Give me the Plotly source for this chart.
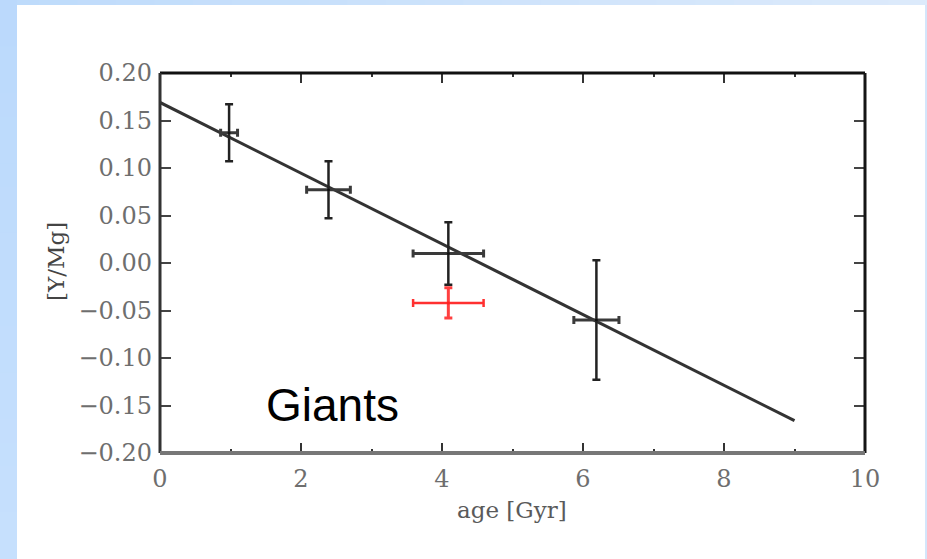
import plotly.graph_objects as go

# Giants: [Y/Mg] abundance ratio versus stellar age
ages = [0.98, 2.39, 4.09, 6.19]
ymg = [0.137, 0.077, 0.010, -0.060]
age_err = [0.12, 0.31, 0.50, 0.32]
ymg_err = [0.030, 0.030, 0.033, 0.063]

# separate red point
red_age = [4.09]
red_ymg = [-0.042]
red_age_err = [0.50]
red_ymg_err = [0.016]

# linear fit
fit_age = [0.0, 9.0]
fit_ymg = [0.169, -0.166]

x_ticks = [0, 2, 4, 6, 8, 10]
y_ticks = [0.20, 0.15, 0.10, 0.05, 0.00, -0.05, -0.10, -0.15, -0.20]
y_tick_text = [("\u2212" if v < 0 else "") + f"{abs(v):.2f}" for v in y_ticks]

W, H = 927, 559
L, R, T, B = 160, 62, 73, 106
PW, PH = W - L - R, H - T - B


def px(x):
    """figure pixel column -> paper coordinate"""
    return (x - L) / PW


def py(y):
    """figure pixel row (from top) -> paper coordinate"""
    return (H - B - y) / PH


tick_font = dict(family="DejaVu Serif", size=24, color="#6e6e6e")

fig = go.Figure()

fig.add_trace(go.Scatter(
    x=fit_age, y=fit_ymg, mode="lines",
    line=dict(color="#333333", width=3), hoverinfo="skip", showlegend=False,
))

fig.add_trace(go.Scatter(
    x=ages, y=ymg, mode="markers",
    marker=dict(size=3, color="#111111"),
    error_x=dict(type="data", array=age_err, color="#3a3a3a", thickness=3, width=4),
    error_y=dict(type="data", array=ymg_err, color="#222222", thickness=2.5, width=4),
    showlegend=False,
))

fig.add_trace(go.Scatter(
    x=red_age, y=red_ymg, mode="markers",
    marker=dict(size=3, color="#ff2020"),
    error_x=dict(type="data", array=red_age_err, color="#ff3030", thickness=2.5, width=4),
    error_y=dict(type="data", array=red_ymg_err, color="#ff4040", thickness=3, width=4),
    showlegend=False,
))

fig.add_annotation(
    x=2.44, y=-0.1495, xref="x", yref="y", text="Giants", showarrow=False,
    font=dict(family="Liberation Sans, Arial", size=46, color="#000000"),
)

# axis titles
fig.add_annotation(
    x=px(512), y=py(510), xref="paper", yref="paper",
    xanchor="center", yanchor="middle",
    text="age [Gyr]", showarrow=False,
    font=dict(family="DejaVu Serif", size=23, color="#5a5a5a"),
)
fig.add_annotation(
    x=px(56), y=py(262), xref="paper", yref="paper",
    xanchor="center", yanchor="middle",
    text="[Y/Mg]", showarrow=False, textangle=-90,
    font=dict(family="DejaVu Serif", size=23, color="#444444"),
)

shapes = []
# light blue frame around the white panel
n = 24
top_c0 = (0xBE, 0xDB, 0xFB)
top_c1 = (0xDC, 0xEA, 0xFB)
for i in range(n):
    f = i / (n - 1)
    c = tuple(int(round(a + (b - a) * f)) for a, b in zip(top_c0, top_c1))
    shapes.append(dict(type="rect", xref="paper", yref="paper", layer="below",
                       x0=px(W * i / n), x1=px(W * (i + 1) / n + 1), y0=py(5), y1=py(0),
                       fillcolor="rgb(%d,%d,%d)" % c, line=dict(width=0)))
left_c0 = (0xBB, 0xD9, 0xFC)
left_c1 = (0xC6, 0xE0, 0xFD)
for i in range(n):
    f = i / (n - 1)
    c = tuple(int(round(a + (b - a) * f)) for a, b in zip(left_c0, left_c1))
    shapes.append(dict(type="rect", xref="paper", yref="paper", layer="below",
                       x0=px(0), x1=px(17), y0=py(H * (i + 1) / n + 1), y1=py(H * i / n),
                       fillcolor="rgb(%d,%d,%d)" % c, line=dict(width=0)))
shapes.append(dict(type="rect", xref="paper", yref="paper", layer="below",
                   x0=px(W - 2), x1=px(W), y0=py(H), y1=py(5),
                   fillcolor="#d4e6fb", line=dict(width=0)))

# plot frame spines
spine = [
    (0, 1, 1, 1, "#111111", 3),
    (1, 1, 0, 1, "#151515", 3),
    (0, 0, 0, 1, "#333333", 3),
    (0, 1, 0, 0, "#777777", 4),
]
for x0, x1, y0, y1, col, w in spine:
    shapes.append(dict(type="line", xref="paper", yref="paper",
                       x0=x0, x1=x1, y0=y0, y1=y1, line=dict(color=col, width=w)))

fig.update_layout(
    width=W, height=H,
    margin=dict(l=L, r=R, t=T, b=B),
    paper_bgcolor="#ffffff",
    plot_bgcolor="#ffffff",
    shapes=shapes,
    xaxis=dict(
        range=[0, 10], tickvals=x_ticks, ticktext=[str(v) for v in x_ticks],
        ticks="inside", ticklen=10, tickwidth=2, tickcolor="#333333",
        mirror="allticks", showline=False, showgrid=False, zeroline=False,
        tickfont=tick_font, ticklabelstandoff=9,
        minor=dict(dtick=1, tick0=0, ticks="inside", ticklen=4, tickwidth=2,
                   tickcolor="#333333", showgrid=False),
    ),
    yaxis=dict(
        range=[-0.20, 0.20], tickvals=y_ticks, ticktext=y_tick_text,
        ticks="inside", ticklen=11, tickwidth=2, tickcolor="#444444",
        mirror="allticks", showline=False, showgrid=False, zeroline=False,
        tickfont=tick_font, ticklabelstandoff=7,
    ),
)

fig.write_html("out.html")
